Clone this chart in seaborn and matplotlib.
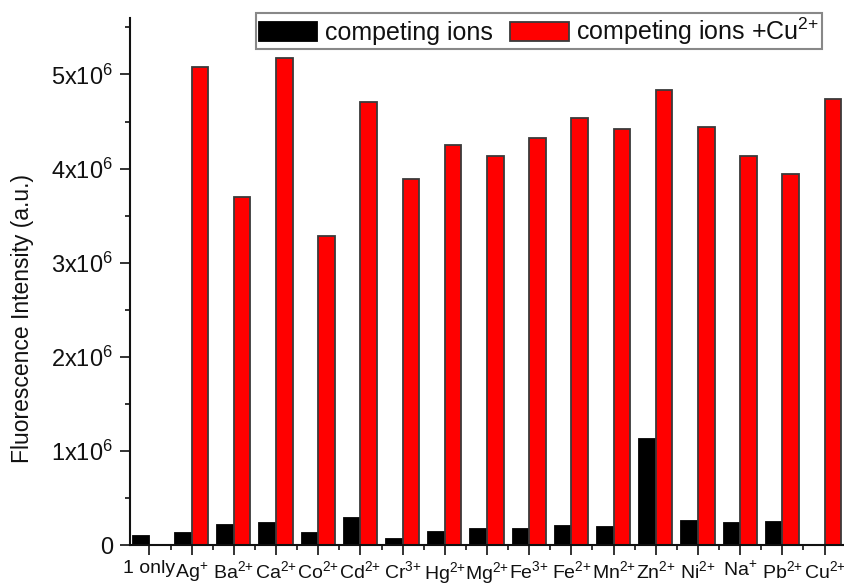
import numpy as np
import pandas as pd
import matplotlib
matplotlib.use("Agg")
import matplotlib.pyplot as plt
from matplotlib.patches import Patch
from matplotlib.ticker import FixedLocator, MultipleLocator
import seaborn as sns

# Metal ions tested (the "{+}" grouping keeps the charge sign tight to the digit)
ions = ["1 only", r"Ag$^{+}$", r"Ba$^{2{+}}$", r"Ca$^{2{+}}$", r"Co$^{2{+}}$",
        r"Cd$^{2{+}}$", r"Cr$^{3{+}}$", r"Hg$^{2{+}}$", r"Mg$^{2{+}}$",
        r"Fe$^{3{+}}$", r"Fe$^{2{+}}$", r"Mn$^{2{+}}$", r"Zn$^{2{+}}$",
        r"Ni$^{2{+}}$", r"Na$^{+}$", r"Pb$^{2{+}}$", r"Cu$^{2{+}}$"]

# Fluorescence intensity (a.u.)
competing = [0.10e6, 0.125e6, 0.21e6, 0.235e6, 0.128e6, 0.283e6, 0.06e6, 0.138e6,
             0.173e6, 0.17e6, 0.198e6, 0.188e6, 1.13e6, 0.258e6, 0.234e6, 0.248e6,
             np.nan]
competing_cu = [np.nan, 5.08e6, 3.70e6, 5.17e6, 3.28e6, 4.71e6, 3.885e6, 4.25e6,
                4.13e6, 4.33e6, 4.54e6, 4.42e6, 4.83e6, 4.44e6, 4.13e6, 3.94e6,
                4.74e6]

series_names = ["competing ions", r"competing ions +Cu$^{2{+}}$"]
series_colors = ["#000000", "#ff0000"]
series_edges = ["#000000", "#3a3a3a"]

ytick_values = [0, 1e6, 2e6, 3e6, 4e6, 5e6]
ytick_labels = ["0", r"1x10$^{6}$", r"2x10$^{6}$", r"3x10$^{6}$",
                r"4x10$^{6}$", r"5x10$^{6}$"]

df = pd.DataFrame({
    "ion": ions * 2,
    "intensity": competing + competing_cu,
    "series": [series_names[0]] * len(ions) + [series_names[1]] * len(ions),
})

sns.set_style("ticks")
plt.rcParams["font.family"] = ["Liberation Sans", "DejaVu Sans"]
plt.rcParams["mathtext.fontset"] = "custom"
plt.rcParams["mathtext.rm"] = "Liberation Sans"
plt.rcParams["mathtext.it"] = "Liberation Sans:italic"
plt.rcParams["mathtext.bf"] = "Liberation Sans:bold"
plt.rcParams["text.color"] = "#111111"
plt.rcParams["axes.labelcolor"] = "#111111"
plt.rcParams["xtick.color"] = "#111111"
plt.rcParams["ytick.color"] = "#111111"

fig = plt.figure(figsize=(8.44, 5.86), dpi=100)
ax = fig.add_axes([130 / 844, 41 / 586, 714 / 844, 527 / 586])

sns.barplot(data=df, x="ion", y="intensity", hue="series", order=ions,
            hue_order=series_names, palette=series_colors, saturation=1,
            width=0.79, linewidth=1.3, ax=ax, legend=False)

for cont, ec in zip(ax.containers, series_edges):
    for bar in cont:
        bar.set_edgecolor(ec)

ax.set_xlim(-0.46, 16.46)
ax.set_ylim(0, 5.6e6)

# axes frame: left and bottom only
for side in ["top", "right"]:
    ax.spines[side].set_visible(False)
for side in ["left", "bottom"]:
    ax.spines[side].set_linewidth(1.5)
    ax.spines[side].set_color("#111111")

ax.yaxis.set_major_locator(FixedLocator(ytick_values))
ax.set_yticklabels(ytick_labels)
ax.yaxis.set_minor_locator(MultipleLocator(0.5e6))
ax.xaxis.set_minor_locator(FixedLocator(np.arange(-0.5, 16.6, 1.0)))

ax.tick_params(axis="y", which="major", direction="out", length=7, width=1.2,
               labelsize=17, pad=5)
ax.tick_params(axis="y", which="minor", direction="out", length=3.6, width=1.2)
ax.tick_params(axis="x", which="major", direction="out", length=7, width=1.2,
               labelsize=14, pad=4)
ax.tick_params(axis="x", which="minor", direction="out", length=3.6, width=1.2)

ax.set_xlabel("")
ax.set_ylabel("Fluorescence Intensity (a.u.)", fontsize=16.5)
ax.yaxis.set_label_coords(-0.134, 0.43)

handles = [Patch(facecolor=c, edgecolor=e, linewidth=1.3)
           for c, e in zip(series_colors, series_edges)]
leg = ax.legend(handles, series_names, loc="upper right", ncol=2,
                bbox_to_anchor=(822 / 844, 1 - 13 / 586),
                bbox_transform=fig.transFigure, borderaxespad=0,
                fontsize=18, frameon=True, fancybox=False, shadow=False,
                handlelength=2.35, handleheight=0.8, handletextpad=0.3,
                columnspacing=0.7, borderpad=0.1, labelspacing=0.1)
leg.get_frame().set_edgecolor("#888888")
leg.get_frame().set_linewidth(1.5)
leg.get_frame().set_alpha(1)

fig.savefig("out.png", dpi=100)
